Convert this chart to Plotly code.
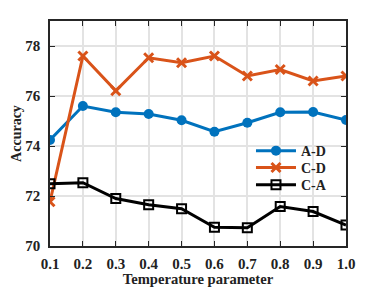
import plotly.graph_objects as go

x = [0.1, 0.2, 0.3, 0.4, 0.5, 0.6, 0.7, 0.8, 0.9, 1.0]
ad = [74.24, 75.6, 75.35, 75.28, 75.03, 74.57, 74.93, 75.35, 75.36, 75.04]
cd = [71.77, 77.6, 76.21, 77.53, 77.33, 77.6, 76.8, 77.06, 76.6, 76.8]
ca = [72.49, 72.53, 71.9, 71.65, 71.49, 70.75, 70.73, 71.58, 71.38, 70.84]
xticks = [0.1, 0.2, 0.3, 0.4, 0.5, 0.6, 0.7, 0.8, 0.9, 1.0]
xticklabels = ["0.1", "0.2", "0.3", "0.4", "0.5", "0.6", "0.7", "0.8", "0.9", "1.0"]
yticks = [70, 72, 74, 76, 78]

fig = go.Figure()
fig.add_trace(go.Scatter(x=x, y=ad, name="A-D", mode="lines+markers", legend="legend",
                         line=dict(color="#0072BD", width=3),
                         marker=dict(symbol="circle", size=10, color="#0072BD")))
fig.add_trace(go.Scatter(x=x, y=cd, name="C-D", mode="lines+markers", legend="legend2",
                         line=dict(color="#D95319", width=3),
                         marker=dict(symbol="x-thin", size=9, color="#D95319",
                                     line=dict(width=3, color="#D95319"))))
fig.add_trace(go.Scatter(x=x, y=ca, name="C-A", mode="lines+markers", legend="legend3",
                         line=dict(color="black", width=3),
                         marker=dict(symbol="square-open", size=9, color="black",
                                     line=dict(width=2, color="black"))))

legfont = dict(family="Liberation Serif", size=14, color="#222222", weight="bold")
def leg(yv):
    return dict(x=0.679, y=yv, xanchor="left", yanchor="middle",
                bgcolor="rgba(255,255,255,0)", borderwidth=0,
                font=legfont, itemwidth=40)

fig.update_layout(
    width=382, height=287,
    margin=dict(l=50, r=36, t=21, b=41, autoexpand=False),
    paper_bgcolor="white", plot_bgcolor="white",
    font=dict(family="Liberation Serif", size=14, color="#222222"),
    showlegend=True,
    legend=leg(0.422), legend2=leg(0.347), legend3=leg(0.271),
)
fig.update_xaxes(range=[0.1, 1.0], tickvals=xticks, ticktext=xticklabels, automargin=False,
                 showgrid=True, gridcolor="#E3E3E3", gridwidth=1.5,
                 showline=True, linecolor="#262626", linewidth=1.5, mirror="ticks",
                 ticks="inside", ticklen=5, tickcolor="#262626", ticklabelstandoff=3,
                 tickfont=dict(family="Liberation Serif", size=15, weight="bold", color="#222222"),
                 title=dict(text="<b>Temperature parameter</b>", standoff=2,
                            font=dict(family="Liberation Serif", size=14.6, color="#222222")),
                 zeroline=False)
fig.update_yaxes(range=[70, 79], tickvals=yticks, automargin=False,
                 showgrid=True, gridcolor="#E3E3E3", gridwidth=1.5,
                 showline=True, linecolor="#262626", linewidth=1.5, mirror="ticks",
                 ticks="inside", ticklen=5, tickcolor="#262626", ticklabelstandoff=5,
                 tickfont=dict(family="Liberation Serif", size=15, weight="bold", color="#222222"),
                 title=dict(text="<b>Accuracy</b>", standoff=0,
                            font=dict(family="Liberation Serif", size=14, color="#222222")),
                 zeroline=False)

fig.write_html("out.html", config={"displayModeBar": False},
               post_script="document.body.style.margin='0';document.body.style.overflow='hidden';")
